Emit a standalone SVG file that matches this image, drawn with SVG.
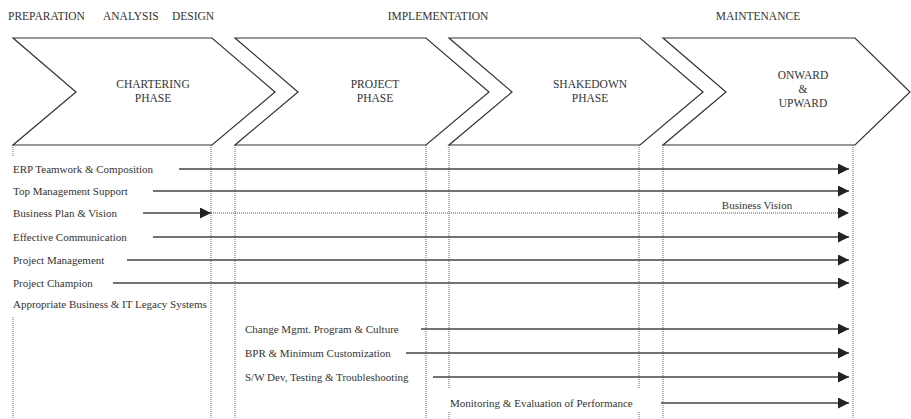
<svg xmlns="http://www.w3.org/2000/svg" width="911" height="419" viewBox="0 0 911 419" font-family="'Liberation Serif', 'DejaVu Serif', serif">
<style>
text{font-family:"Liberation Serif","DejaVu Serif",serif;fill:#333}
.hdr{font-size:11.5px}
.ph{font-size:11.5px;text-anchor:middle}
.lbl{font-size:11px}
.chev{fill:#fff;stroke:#333;stroke-width:1.2}
.vdot{stroke:#666;stroke-width:1;stroke-dasharray:1 1;fill:none}
.ln{stroke:#444;stroke-width:1.3;fill:none}
.dln{stroke:#555;stroke-width:1.1;stroke-dasharray:1 1;fill:none}
</style>
<defs>
<marker id="ah" markerUnits="userSpaceOnUse" markerWidth="11" markerHeight="11" refX="11" refY="5.5" orient="auto">
<path d="M0,0 L11,5.5 L0,11 Z" fill="#222"/>
</marker>
</defs>
<rect width="911" height="419" fill="#fff"/>
<g id="headers">
<text class="hdr" x="8" y="20">PREPARATION</text>
<text class="hdr" x="103" y="20">ANALYSIS</text>
<text class="hdr" x="172" y="20">DESIGN</text>
<text class="hdr" x="438" y="20" text-anchor="middle">IMPLEMENTATION</text>
<text class="hdr" x="758" y="20" text-anchor="middle">MAINTENANCE</text>
</g>
<g id="guides">
<path class="vdot" d="M13,145 V156 M13,317 V419 M211,145 V419 M235,145 V419 M426,145 V419 M449,145 V388 M449,412 V419 M639,145 V388 M639,412 V419 M663,145 V419 M853,145 V419"/>
</g>
<g id="chartering">
<path class="chev" d="M13,38 L212,38 L275,92 L212,145 L13,145 L76,92 Z"/>
<text class="ph" x="153" y="88">CHARTERING</text>
<text class="ph" x="153" y="102">PHASE</text>
</g>
<g id="project">
<path class="chev" d="M235,38 L426,38 L489,92 L426,145 L235,145 L298,92 Z"/>
<text class="ph" x="375" y="88">PROJECT</text>
<text class="ph" x="375" y="102">PHASE</text>
</g>
<g id="shakedown">
<path class="chev" d="M449,38 L640,38 L703,92 L640,145 L449,145 L512,92 Z"/>
<text class="ph" x="590" y="88">SHAKEDOWN</text>
<text class="ph" x="590" y="102">PHASE</text>
</g>
<g id="onward">
<path class="chev" d="M663,38 L855,38 L910,92 L855,145 L663,145 L726,92 Z"/>
<text class="ph" x="803" y="79">ONWARD</text>
<text class="ph" x="803" y="93">&amp;</text>
<text class="ph" x="803" y="107">UPWARD</text>
</g>
<g id="factors">
<text class="lbl" x="13" y="173">ERP Teamwork &amp; Composition</text>
<text class="lbl" x="13" y="195">Top Management Support</text>
<text class="lbl" x="13" y="217">Business Plan &amp; Vision</text>
<text class="lbl" x="13" y="241">Effective Communication</text>
<text class="lbl" x="13" y="264">Project Management</text>
<text class="lbl" x="13" y="287">Project Champion</text>
<text class="lbl" x="13" y="308">Appropriate Business &amp; IT Legacy Systems</text>
<text class="lbl" x="245" y="333">Change Mgmt. Program &amp; Culture</text>
<text class="lbl" x="245" y="357">BPR &amp; Minimum Customization</text>
<text class="lbl" x="245" y="381">S/W Dev, Testing &amp; Troubleshooting</text>
<text class="lbl" x="450" y="407">Monitoring &amp; Evaluation of Performance</text>
<text class="lbl" x="757" y="209" text-anchor="middle">Business Vision</text>
</g>
<g id="connectors">
<line class="ln" x1="179" y1="169" x2="849" y2="169" marker-end="url(#ah)"/>
<line class="ln" x1="153" y1="191" x2="849" y2="191" marker-end="url(#ah)" style="stroke-width:1.5"/>
<line class="ln" x1="143" y1="213" x2="211" y2="213" marker-end="url(#ah)"/>
<line class="dln" x1="211" y1="213" x2="849" y2="213" marker-end="url(#ah)"/>
<line class="ln" x1="153" y1="237" x2="849" y2="237" marker-end="url(#ah)" style="stroke-width:1.5"/>
<line class="ln" x1="127" y1="260" x2="849" y2="260" marker-end="url(#ah)"/>
<line class="ln" x1="113" y1="283" x2="849" y2="283" marker-end="url(#ah)"/>
<line class="ln" x1="421" y1="329" x2="849" y2="329" marker-end="url(#ah)"/>
<line class="ln" x1="406" y1="353" x2="849" y2="353" marker-end="url(#ah)"/>
<line class="ln" x1="433" y1="377" x2="849" y2="377" marker-end="url(#ah)"/>
<line class="ln" x1="661" y1="403" x2="849" y2="403" marker-end="url(#ah)"/>
</g>
</svg>
